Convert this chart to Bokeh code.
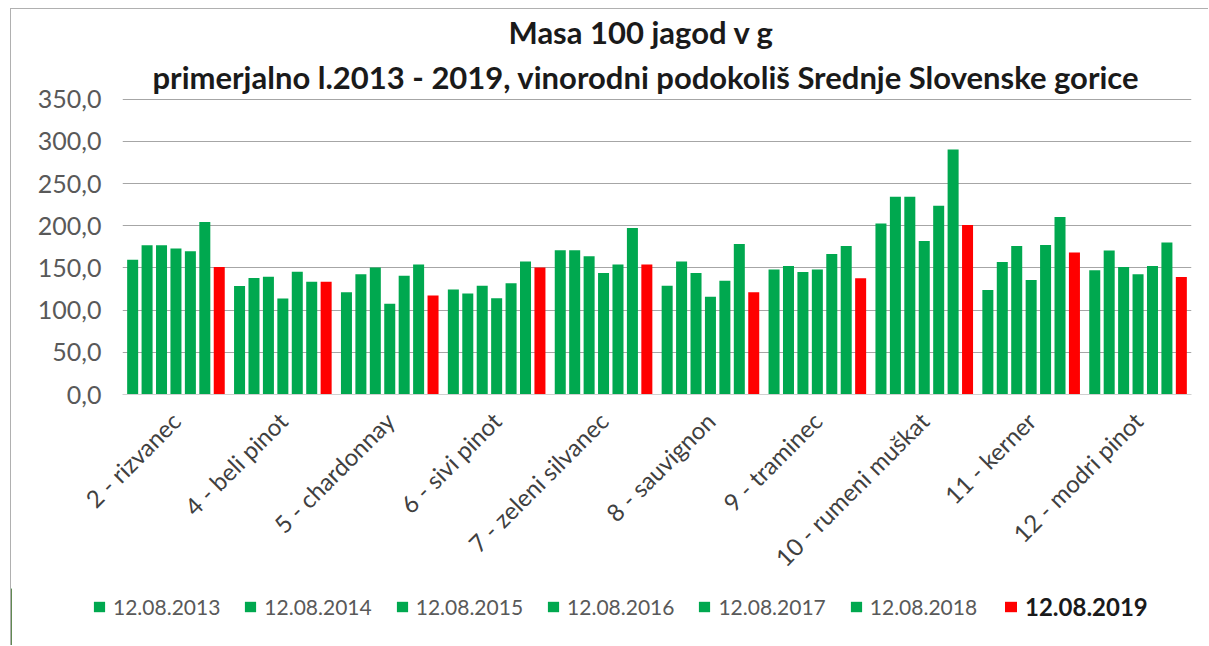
from math import pi
from bokeh.plotting import figure
from bokeh.models import (ColumnDataSource, FactorRange, Range1d, FixedTicker,
                          Legend, LegendItem, Title)
from bokeh.transform import dodge
from bokeh.embed import file_html
from bokeh.resources import INLINE

categories = ["2 - rizvanec", "4 - beli pinot", "5 - chardonnay", "6 - sivi pinot",
              "7 - zeleni silvanec", "8 - sauvignon", "9 - traminec",
              "10 - rumeni muškat", "11 - kerner", "12 - modri pinot"]

series_labels = ["12.08.2013", "12.08.2014", "12.08.2015", "12.08.2016",
                 "12.08.2017", "12.08.2018", "12.08.2019"]

v2013 = [159.6, 128.6, 121.2, 124.3, 171.0, 129.0, 148.2, 202.6, 123.7, 147.2]
v2014 = [176.9, 138.0, 142.4, 119.6, 171.0, 157.6, 152.3, 234.4, 157.0, 170.8]
v2015 = [176.9, 139.6, 150.6, 129.0, 163.9, 143.9, 145.3, 234.4, 175.9, 151.2]
v2016 = [172.9, 113.7, 107.5, 114.1, 143.9, 115.7, 148.0, 181.8, 135.8, 142.5]
v2017 = [169.8, 145.5, 140.8, 131.8, 154.1, 134.9, 166.5, 223.8, 177.1, 152.3]
v2018 = [204.3, 133.7, 154.1, 157.6, 197.3, 178.4, 175.9, 290.5, 210.4, 180.2]
v2019 = [151.0, 133.7, 117.3, 150.6, 154.1, 121.2, 137.8, 201.0, 168.4, 139.4]

y_ticks = [0, 50, 100, 150, 200, 250, 300, 350]
y_tick_labels = ["0,0", "50,0", "100,0", "150,0", "200,0", "250,0", "300,0", "350,0"]

title_line1 = "Masa 100 jagod v g"
title_line2 = "primerjalno l.2013 - 2019, vinorodni podokoliš  Srednje Slovenske gorice"

GREEN = "#00A84F"
RED = "#FF0000"
FONT = "Lato"

keys = ["y2013", "y2014", "y2015", "y2016", "y2017", "y2018", "y2019"]
values = [v2013, v2014, v2015, v2016, v2017, v2018, v2019]
colors = [GREEN] * 6 + [RED]
data = {"cat": categories}
for k, v in zip(keys, values):
    data[k] = v
source = ColumnDataSource(data)

W = 1198
p = figure(x_range=FactorRange(factors=categories, range_padding=0),
           y_range=Range1d(0, 350.8),
           width=W, height=580, output_backend="svg", toolbar_location=None,
           min_border_left=111, min_border_right=18, min_border_top=88,
           min_border_bottom=195)
p.margin = (8, 0, 0, 10)
p.styles = {"border-left": "1px solid #b0b0b0", "border-top": "1px solid #b0b0b0"}

p.title = Title(text=title_line1, align="left", offset=386, text_font=FONT,
                text_font_size="31px", text_font_style="bold",
                text_color="#1a1a1a", standoff=3)
p.add_layout(Title(text=title_line2, align="left", offset=30, text_font=FONT,
                   text_font_size="31px", text_font_style="bold",
                   text_color="#1a1a1a", standoff=6), "above")

step = 0.135
bw = 0.103
renderers = []
for i, k in enumerate(keys):
    r = p.vbar(x=dodge("cat", (i - 3) * step, range=p.x_range), top=k, width=bw,
               source=source, fill_color=colors[i], line_color=None)
    renderers.append(r)

p.outline_line_color = None
p.xgrid.grid_line_color = None
p.ygrid.grid_line_color = "#a6a6a6"
p.ygrid.grid_line_width = 1

p.yaxis.ticker = FixedTicker(ticks=y_ticks)
p.yaxis.major_label_overrides = {t: l for t, l in zip(y_ticks, y_tick_labels)}
p.yaxis.axis_line_color = None
p.yaxis.major_tick_line_color = None
p.yaxis.minor_tick_line_color = None
p.yaxis.major_label_text_font = FONT
p.yaxis.major_label_text_font_size = "25px"
p.yaxis.major_label_text_color = "#595959"
p.yaxis.major_label_standoff = 15

p.xaxis.axis_line_color = "#d0d0d0"
p.xaxis.major_tick_line_color = None
p.xaxis.major_label_orientation = pi / 4
p.xaxis.major_label_text_font = FONT
p.xaxis.major_label_text_font_size = "24px"
p.xaxis.major_label_text_color = "#404040"
p.xaxis.major_label_standoff = 16

# legend strip below the chart (its own root, so its frame starts at the left edge)
p2 = figure(width=W, height=57, output_backend="svg", toolbar_location=None,
            x_axis_type=None, y_axis_type=None, min_border=0,
            x_range=Range1d(0, 1), y_range=Range1d(0, 1))
p2.margin = (0, 0, 0, 10)
p2.styles = {"border-left": "1px solid #b0b0b0"}
p2.outline_line_color = None
leg_src = ColumnDataSource({"x": [-5], "top": [1]})
leg_renderers = []
for i in range(7):
    leg_renderers.append(p2.vbar(x="x", top="top", width=0.1, source=leg_src,
                                 fill_color=colors[i], line_color=None))

green_items = [LegendItem(label=series_labels[i], renderers=[leg_renderers[i]])
               for i in range(6)]
leg1 = Legend(items=green_items, orientation="horizontal", location=(81, 26),
              glyph_width=14, glyph_height=13, label_standoff=7, spacing=23,
              label_height=24, padding=0, margin=0, border_line_color=None,
              background_fill_alpha=0, label_text_font=FONT,
              label_text_font_size="21px", label_text_color="#595959")
leg2 = Legend(items=[LegendItem(label=series_labels[6], renderers=[leg_renderers[6]])],
              orientation="horizontal", location=(992, 24),
              glyph_width=15, glyph_height=13, label_standoff=7, spacing=23,
              label_height=28, padding=0, margin=0, border_line_color=None,
              background_fill_alpha=0, label_text_font=FONT,
              label_text_font_size="24px", label_text_font_style="bold",
              label_text_color="#1a1a1a")
p2.add_layout(leg1, "center")
p2.add_layout(leg2, "center")

open("out.html", "w").write(file_html([p, p2], INLINE))
